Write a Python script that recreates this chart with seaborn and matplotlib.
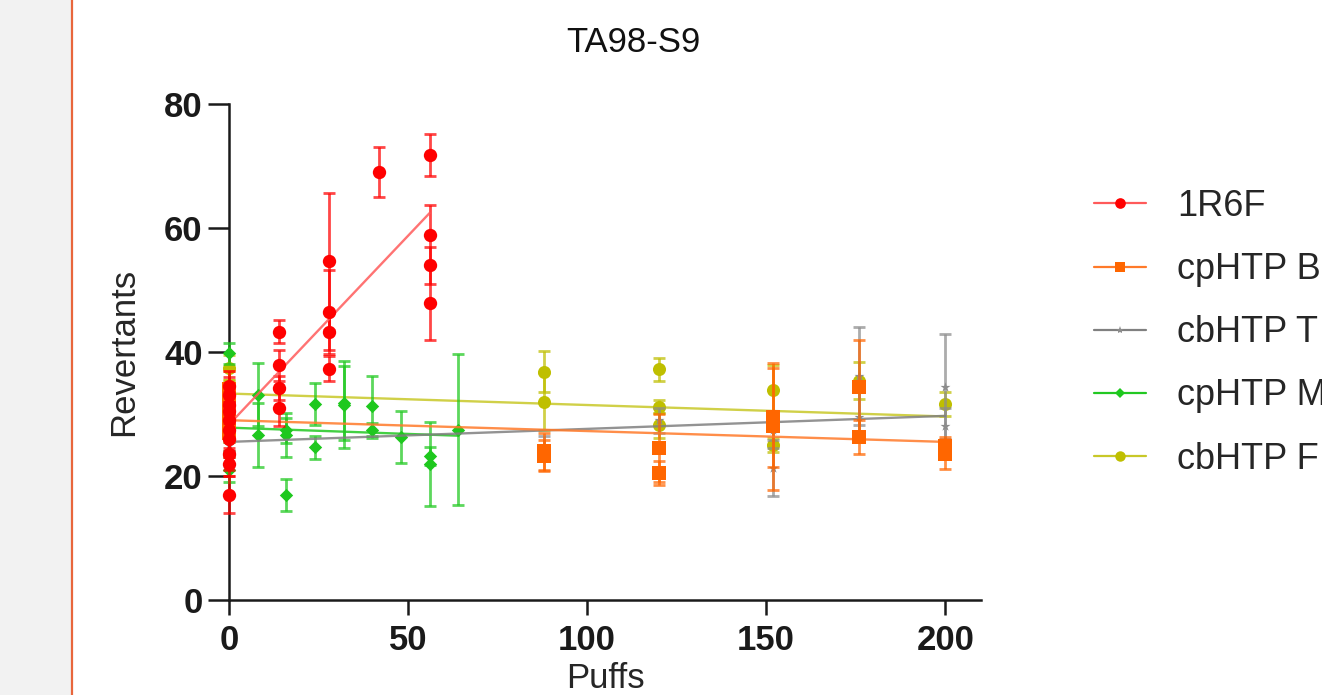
import numpy as np
import pandas as pd
import matplotlib
matplotlib.use("Agg")
import matplotlib.pyplot as plt
import seaborn as sns
from matplotlib.patches import Rectangle
from matplotlib.lines import Line2D

# ---------------- data ----------------
title = "TA98-S9"
x_label = "Puffs"
y_label = "Revertants"
x_ticks = [0, 50, 100, 150, 200]
y_ticks = [0, 20, 40, 60, 80]

names = ["1R6F", "cpHTP B", "cbHTP T", "cpHTP M", "cbHTP F"]

r6f_x = [0]*10 + [14]*4 + [28]*4 + [42] + [56]*4
r6f_y = [17, 22, 23.5, 26, 27.5, 29, 30.5, 31.5, 33, 34.5,
         43.3, 37.9, 34.2, 31.0,
         54.6, 46.5, 43.3, 37.3,
         69.0,
         71.8, 58.9, 54.0, 47.9]
r6f_e = [3, 2, 2.5, 3, 3, 3, 3, 3, 3, 2.5,
         1.8, 2.5, 2.0, 3.0,
         11.0, 6.8, 3.0, 2.0,
         4.0,
         3.4, 4.8, 3.0, 6.0]
r6f_fit_x = [0, 56]
r6f_fit_y = [28.3, 62.4]

cpb_x = [0]*5 + [88]*2 + [120]*2 + [152]*2 + [176]*2 + [200]*2
cpb_y = [27, 28.5, 30, 32, 34, 23.3, 24.0, 24.5, 20.5, 28.0, 29.5, 34.4, 26.3, 23.5, 24.8]
cpb_e = [4, 3, 3, 3, 3, 2.5, 3.0, 5.5, 2.0, 10.2, 8.0, 7.6, 2.8, 2.3, 1.5]
cpb_fit_x = [0, 200]
cpb_fit_y = [29.0, 25.5]

cbt_x = [0]*2 + [88] + [120] + [152]*2 + [176]*2 + [200]*2
cbt_y = [25, 27, 24.5, 29, 21.3, 27.5, 36.2, 29.5, 34.4, 28.0]
cbt_e = [3, 3, 2, 2, 4.5, 3, 7.9, 4, 8.5, 3]
cbt_fit_x = [0, 200]
cbt_fit_y = [25.5, 29.7]

cpm_x = [0]*4 + [8]*2 + [16]*3 + [24]*2 + [32]*2 + [40]*2 + [48] + [56]*2 + [64]
cpm_y = [39.8, 27.5, 26.0, 21.0, 33.1, 26.6, 27.4, 26.6, 16.9, 31.6, 24.6,
         31.5, 31.8, 31.3, 27.4, 26.3, 23.2, 21.9, 27.5]
cpm_e = [1.7, 2, 2, 2, 5.1, 5.2, 2.0, 3.5, 2.6, 3.4, 1.8,
         7.0, 6.0, 4.8, 1.2, 4.2, 1.5, 6.8, 12.2]
cpm_fit_x = [0, 64]
cpm_fit_y = [27.8, 26.5]

cbf_x = [0]*2 + [88]*2 + [120]*3 + [152]*2 + [176] + [200]
cbf_y = [37.5, 33.0, 36.8, 32.0, 37.2, 31.2, 28.2, 33.9, 25.0, 35.4, 31.6]
cbf_e = [2.0, 2.5, 3.3, 4.6, 1.8, 1.0, 2.0, 4.0, 1.2, 3.0, 2.0]
cbf_fit_x = [0, 200]
cbf_fit_y = [33.3, 29.6]

series = [
    (names[0], r6f_x, r6f_y, r6f_e, r6f_fit_x, r6f_fit_y),
    (names[1], cpb_x, cpb_y, cpb_e, cpb_fit_x, cpb_fit_y),
    (names[2], cbt_x, cbt_y, cbt_e, cbt_fit_x, cbt_fit_y),
    (names[3], cpm_x, cpm_y, cpm_e, cpm_fit_x, cpm_fit_y),
    (names[4], cbf_x, cbf_y, cbf_e, cbf_fit_x, cbf_fit_y),
]

# ---------------- styles ----------------
colors = ["#ff0000", "#ff6600", "#8c8c8c", "#1ec81e", "#bfbf00"]
line_colors = ["#ff5a5a", "#ff7a2a", "#808080", "#22c822", "#c8c828"]
markers = ["o", "s", "*", "D", "o"]
msizes = [9.6, 9.4, 7.5, 6.8, 9.4]
zorders = [10, 8, 7, 6, 5]

sns.set_theme(style="ticks")
plt.rcParams["font.family"] = ["Liberation Sans", "DejaVu Sans"]

W, H = 1322, 695
fig = plt.figure(figsize=(W / 100, H / 100), dpi=100)
fig.patch.set_facecolor("white")

# left grey panel and orange divider of the screenshot
fig.add_artist(Rectangle((0, 0), 71 / W, 1, transform=fig.transFigure,
                         facecolor="#f2f2f2", edgecolor="none", zorder=0))
fig.add_artist(Line2D([71.5 / W, 71.5 / W], [0, 1], transform=fig.transFigure,
                      color="#e8663c", lw=1.6, zorder=1))

ax = fig.add_axes([229 / W, 1 - 600 / H, (981 - 229) / W, (600 - 104) / H])
ax.set_facecolor("none")

for i, (nm, xs, ys, es, fx, fy) in enumerate(series):
    z = zorders[i]
    df = pd.DataFrame({"x": xs, "y": ys})
    ax.errorbar(xs, ys, yerr=es, fmt="none", ecolor=colors[i], elinewidth=2.0,
                capsize=4.5, capthick=2.0, alpha=0.72, zorder=z, clip_on=False)
    sns.lineplot(x=fx, y=fy, ax=ax, color=line_colors[i], lw=1.7, alpha=0.85,
                 zorder=z + 0.5, legend=False)
    sns.scatterplot(data=df, x="x", y="y", ax=ax, color=colors[i], marker=markers[i],
                    s=msizes[i] ** 2, linewidth=0, zorder=z + 0.6, legend=False,
                    clip_on=False)

ax.set_xlim(0, 210)
ax.set_ylim(0, 80)
ax.set_xticks(x_ticks)
ax.set_yticks(y_ticks)
ax.set_xlabel(x_label, fontsize=25)
ax.set_ylabel(y_label, fontsize=25)
ax.xaxis.set_label_coords(0.5, -0.125)
ax.yaxis.set_label_coords(-0.118, 0.5)
for s in ["top", "right"]:
    ax.spines[s].set_visible(False)
for s in ["left", "bottom"]:
    ax.spines[s].set_linewidth(1.8)
    ax.spines[s].set_color("#1a1a1a")
ax.tick_params(axis="y", length=15, width=1.8, pad=4, labelsize=25, colors="#1a1a1a")
ax.tick_params(axis="x", length=11, width=1.8, pad=6, labelsize=25, colors="#1a1a1a")
for lab in ax.get_xticklabels() + ax.get_yticklabels():
    lab.set_fontweight("bold")

fig.text(633 / W, 1 - 43 / H, title, ha="center", va="center", fontsize=25,
         color="#111111")

handles = [Line2D([], [], color=line_colors[i], lw=1.6, marker=markers[i],
                  markersize=msizes[i] * 0.8, markerfacecolor=colors[i],
                  markeredgewidth=0) for i in range(len(names))]
fig.legend(handles, names, loc="upper left", bbox_to_anchor=(1094 / W, 1 - 189 / H),
           frameon=False, fontsize=26, handlelength=1.45, handletextpad=0.85,
           labelspacing=0.78, borderpad=0, borderaxespad=0)

fig.savefig("out.png", dpi=100)
